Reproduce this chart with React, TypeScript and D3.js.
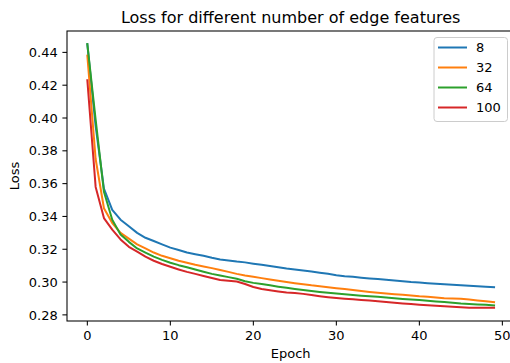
import React from "react";
import * as d3 from "d3";

const epochs: number[] = Array.from({ length: 50 }, (_, i) => i);

const loss8: number[] = [
  0.445, 0.395, 0.357, 0.344, 0.338, 0.334, 0.330, 0.327, 0.325, 0.323,
  0.321, 0.3195, 0.318, 0.317, 0.316, 0.3148, 0.3138, 0.3132, 0.3125, 0.312,
  0.3112, 0.3105, 0.3098, 0.309, 0.3082, 0.3076, 0.307, 0.3064, 0.3057, 0.305,
  0.3042, 0.3036, 0.3032, 0.3027, 0.3022, 0.3018, 0.3014, 0.301, 0.3005, 0.3,
  0.2997, 0.2993, 0.299, 0.2986, 0.2983, 0.298, 0.2977, 0.2974, 0.2971, 0.2968,
];
const loss32: number[] = [
  0.438, 0.375, 0.345, 0.336, 0.330, 0.3265, 0.323, 0.3205, 0.318, 0.316,
  0.3145, 0.313, 0.3118, 0.3105, 0.3095, 0.3085, 0.3073, 0.3062, 0.305, 0.304,
  0.3032, 0.3024, 0.3016, 0.3008, 0.3, 0.2993, 0.2987, 0.298, 0.2975, 0.2969,
  0.2963, 0.2958, 0.2952, 0.2946, 0.294, 0.2935, 0.293, 0.2926, 0.2922, 0.2918,
  0.2913, 0.291, 0.2906, 0.2902, 0.29, 0.2898, 0.2893, 0.2888, 0.2883, 0.2878,
];
const loss64: number[] = [
  0.445, 0.399, 0.355, 0.338, 0.329, 0.3245, 0.3205, 0.318, 0.3155, 0.3135,
  0.3118, 0.3103, 0.309, 0.3077, 0.3063, 0.305, 0.304, 0.303, 0.302, 0.3005,
  0.2995, 0.2988, 0.298, 0.2972, 0.2965, 0.2958, 0.2952, 0.2946, 0.294, 0.2935,
  0.293, 0.2925, 0.2921, 0.2917, 0.2913, 0.291, 0.2906, 0.2902, 0.2897, 0.2893,
  0.289, 0.2886, 0.2882, 0.2878, 0.2874, 0.2869, 0.2866, 0.2863, 0.2861, 0.2858,
];
const loss100: number[] = [
  0.423, 0.358, 0.339, 0.332, 0.326, 0.3215, 0.3185, 0.3155, 0.313, 0.311,
  0.3093, 0.3077, 0.3062, 0.305, 0.3037, 0.3025, 0.3012, 0.3008, 0.3003, 0.2988,
  0.297, 0.2958, 0.295, 0.2943, 0.2937, 0.2933, 0.2928, 0.2921, 0.2914, 0.2908,
  0.2903, 0.2899, 0.2895, 0.2891, 0.2887, 0.2883, 0.2878, 0.2874, 0.287, 0.2866,
  0.2862, 0.2858, 0.2855, 0.2852, 0.2849, 0.2846, 0.2844, 0.2843, 0.2843, 0.2844,
];

const seriesNames: string[] = ["8", "32", "64", "100"];
const seriesColors: string[] = ["#1f77b4", "#ff7f0e", "#2ca02c", "#d62728"];
const seriesValues: number[][] = [loss8, loss32, loss64, loss100];

const xTicks: number[] = [0, 10, 20, 30, 40, 50];
const yTicks: number[] = [0.28, 0.3, 0.32, 0.34, 0.36, 0.38, 0.4, 0.42, 0.44];

const W = 510;
const H = 363;
const left = 67;
const top = 31;
const right = 514.4;
const bottom = 321;
const FONT = "DejaVu Sans";
const fs = 13;
const tickLen = 4.6;

export default function App() {
  const allVals = seriesValues.flat();
  const yMin = d3.min(allVals) as number;
  const yMax = d3.max(allVals) as number;
  const yPad = (yMax - yMin) * 0.05;
  const xMin = 0;
  const xMax = epochs.length - 1;
  const xPad = (xMax - xMin) * 0.05;

  const x = d3.scaleLinear().domain([xMin - xPad, xMax + xPad]).range([left, right]);
  const y = d3.scaleLinear().domain([yMin - yPad, yMax + yPad]).range([bottom, top]);

  const line = d3
    .line<number>()
    .x((_, i) => x(epochs[i]))
    .y((d) => y(d));

  const legX = 434;
  const legY = 37.5;
  const legW = 73.5;
  const legH = 84;
  const rowH = 20;

  return (
    <>
      <style>{"body{margin:0}"}</style>
      <svg width={W} height={H} style={{ display: "block", fontFamily: FONT }}>
        <rect x={0} y={0} width={W} height={H} fill="#fff" />
        {seriesValues.map((vals, k) => (
          <path
            key={k}
            d={line(vals) || ""}
            fill="none"
            stroke={seriesColors[k]}
            strokeWidth={2}
            strokeLinejoin="round"
            strokeLinecap="square"
          />
        ))}
        {/* spines */}
        <rect x={left} y={top} width={right - left} height={bottom - top} fill="none" stroke="#000" strokeWidth={1.05} />
        {/* x ticks */}
        {xTicks.map((t) => (
          <g key={t}>
            <line x1={x(t)} x2={x(t)} y1={bottom} y2={bottom + tickLen} stroke="#000" strokeWidth={1.05} />
            <text x={x(t)} y={bottom + tickLen + 4.6 + fs * 0.76} fontSize={fs} textAnchor="middle" fill="#000">
              {t}
            </text>
          </g>
        ))}
        {/* y ticks */}
        {yTicks.map((t) => (
          <g key={t}>
            <line x1={left - tickLen} x2={left} y1={y(t)} y2={y(t)} stroke="#000" strokeWidth={1.05} />
            <text x={left - tickLen - 4.6} y={y(t) + fs * 0.36} fontSize={fs} textAnchor="end" fill="#000">
              {t.toFixed(2)}
            </text>
          </g>
        ))}
        <text x={(left + right) / 2} y={358} fontSize={fs} textAnchor="middle" fill="#000">
          Epoch
        </text>
        <text
          transform={`translate(19,${(top + bottom) / 2}) rotate(-90)`}
          fontSize={fs}
          textAnchor="middle"
          fill="#000"
        >
          Loss
        </text>
        <text x={(left + right) / 2} y={23} fontSize={16} textAnchor="middle" fill="#000">
          Loss for different number of edge features
        </text>
        {/* legend */}
        <rect x={legX} y={legY} width={legW} height={legH} rx={3} fill="#fff" fillOpacity={0.8} stroke="#cccccc" strokeWidth={1} />
        {seriesNames.map((n, k) => {
          const cy = legY + 10 + rowH * k;
          return (
            <g key={n}>
              <line x1={legX + 4} x2={legX + 33} y1={cy} y2={cy} stroke={seriesColors[k]} strokeWidth={2} />
              <text x={legX + 42} y={cy + fs * 0.36} fontSize={fs} fill="#000">
                {n}
              </text>
            </g>
          );
        })}
      </svg>
    </>
  );
}
